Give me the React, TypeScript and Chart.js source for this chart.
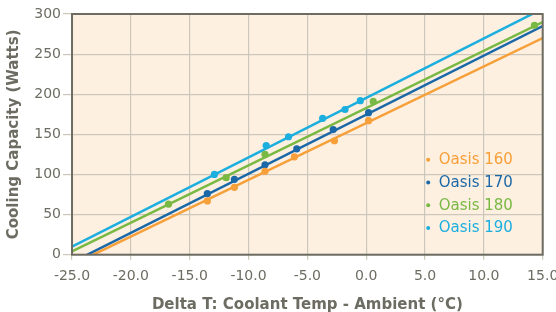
import React, { useEffect, useRef } from "react";
import { Chart, registerables } from "chart.js";

Chart.register(...registerables);

const seriesNames = ["Oasis 160", "Oasis 170", "Oasis 180", "Oasis 190"];
const seriesColors = ["#f79f38", "#1b68a8", "#78b843", "#1caede"];

const oasis160X = [-13.5, -11.2, -8.6, -6.1, -2.7, 0.2];
const oasis160Y = [67, 84, 104, 122, 142, 167];
const oasis170X = [-13.5, -11.2, -8.6, -5.9, -2.8, 0.2];
const oasis170Y = [76, 94, 112, 132, 156, 177];
const oasis180X = [-16.8, -11.9, -8.6, 0.6, 14.3];
const oasis180Y = [63, 96, 125, 191, 286];
const oasis190X = [-12.9, -8.5, -6.6, -3.7, -1.8, -0.5];
const oasis190Y = [100, 136, 147, 170, 181, 192];

const trendX = [-25, 15];
const trend160Y = [-12.7, 270];
const trend170Y = [-9.6, 285];
const trend180Y = [4, 290];
const trend190Y = [10.2, 306.6];

const xTicks = [-25, -20, -15, -10, -5, 0, 5, 10, 15];
const yTicks = [0, 50, 100, 150, 200, 250, 300];

const pointsX = [oasis160X, oasis170X, oasis180X, oasis190X];
const pointsY = [oasis160Y, oasis170Y, oasis180Y, oasis190Y];
const trendsY = [trend160Y, trend170Y, trend180Y, trend190Y];

const FONT = "'DejaVu Sans', sans-serif";
const AXIS_COLOR = "#6d6c62";
const GRID_COLOR = "#cdc6ba";

const zip = (xs: number[], ys: number[]) => xs.map((x, i) => ({ x, y: ys[i] }));

export default function App() {
  const ref = useRef<HTMLCanvasElement | null>(null);
  useEffect(() => {
    document.body.style.margin = "0";
    const canvas = ref.current;
    if (!canvas) return;

    const decor = {
      id: "areaDecor",
      beforeDraw(chart: any) {
        const { ctx, chartArea: a } = chart;
        ctx.save();
        ctx.fillStyle = "#fdf0e1";
        ctx.fillRect(a.left, a.top, a.right - a.left, a.bottom - a.top);
        ctx.restore();
      },
      afterDatasetsDraw(chart: any) {
        const { ctx, chartArea: a } = chart;
        ctx.save();
        ctx.strokeStyle = AXIS_COLOR;
        ctx.lineWidth = 2;
        ctx.strokeRect(a.left, a.top, a.right - a.left, a.bottom - a.top);
        ctx.font = `15px ${FONT}`;
        ctx.textBaseline = "middle";
        seriesNames.forEach((name, i) => {
          const y = a.bottom - 95 + i * 22.8;
          const x = a.right - 114.5;
          ctx.fillStyle = seriesColors[i];
          ctx.beginPath();
          ctx.arc(x, y, 2, 0, Math.PI * 2);
          ctx.fill();
          ctx.fillText(name, x + 10.5, y + 0.5);
        });
        ctx.restore();
      },
    };

    const datasets: any[] = [];
    seriesNames.forEach((name, i) => {
      datasets.push({
        label: name + " trend",
        data: zip(trendX, trendsY[i]),
        showLine: true,
        borderColor: seriesColors[i],
        backgroundColor: seriesColors[i],
        borderWidth: 2.5,
        pointRadius: 0,
        order: 2,
      });
      datasets.push({
        label: name,
        data: zip(pointsX[i], pointsY[i]),
        showLine: false,
        borderColor: seriesColors[i],
        backgroundColor: seriesColors[i],
        pointRadius: 3.6,
        pointBorderWidth: 0,
        order: 1,
      });
    });

    const chart = new Chart(canvas, {
      type: "scatter",
      data: { datasets },
      options: {
        animation: false,
        responsive: false,
        maintainAspectRatio: false,
        layout: { padding: { top: 14, right: 13.3, left: 0, bottom: 0 } },
        plugins: { legend: { display: false }, tooltip: { enabled: false } },
        scales: {
          x: {
            type: "linear",
            min: -25,
            max: 15,
            afterBuildTicks: (s: any) => {
              s.ticks = xTicks.map((v) => ({ value: v }));
            },
            afterFit: (s: any) => {
              s.paddingRight = 0;
              s.paddingLeft = 0;
            },
            ticks: {
              color: AXIS_COLOR,
              font: { family: FONT, size: 14 },
              padding: 8,
              maxRotation: 0,
              autoSkip: false,
              callback: (v: any) => Number(v).toFixed(1),
            },
            grid: { color: GRID_COLOR, lineWidth: 1.2, tickLength: 5, tickColor: GRID_COLOR },
            border: { display: false },
            title: {
              display: true,
              text: "Delta T: Coolant Temp - Ambient (°C)",
              color: AXIS_COLOR,
              font: { family: FONT, size: 15, weight: "bold" },
              padding: { top: 3.5, bottom: -2 },
            },
          },
          y: {
            type: "linear",
            min: 0,
            max: 300,
            afterBuildTicks: (s: any) => {
              s.ticks = yTicks.map((v) => ({ value: v }));
            },
            afterFit: (s: any) => {
              s.paddingTop = 0;
              s.paddingBottom = 0;
            },
            ticks: {
              color: AXIS_COLOR,
              font: { family: FONT, size: 14 },
              padding: 2,
            },
            grid: { color: GRID_COLOR, lineWidth: 1.2, tickLength: 9, tickColor: GRID_COLOR },
            border: { display: false },
            title: {
              display: true,
              text: "Cooling Capacity (Watts)",
              color: AXIS_COLOR,
              font: { family: FONT, size: 15, weight: "bold" },
              padding: { top: 5.5, bottom: 8.8 },
            },
          },
        },
      },
      plugins: [decor],
    });
    return () => chart.destroy();
  }, []);
  return (
    <div style={{ width: 556, height: 312 }}>
      <canvas ref={ref} width={556} height={312} style={{ width: 556, height: 312, display: "block" }} />
    </div>
  );
}
